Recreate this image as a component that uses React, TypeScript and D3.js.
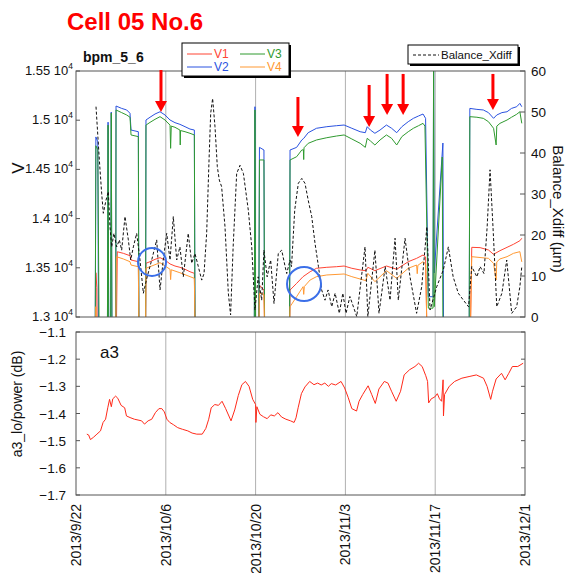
import React from 'react';
import * as d3 from 'd3';

type P = [number, number];

// x ticks (days since 2013/9/22)
const dateTickDays = [0, 14, 28, 42, 56, 70];
const dateTickLabels = ['2013/9/22', '2013/10/6', '2013/10/20', '2013/11/3', '2013/11/17', '2013/12/1'];
const vTicks = [13000, 13500, 14000, 14500, 15000, 15500];
const vTickLabels = ['1.3', '1.35', '1.4', '1.45', '1.5', '1.55'];
const balTicks = [0, 10, 20, 30, 40, 50, 60];
const a3Ticks = [-1.7, -1.6, -1.5, -1.4, -1.3, -1.2, -1.1];
const a3TickLabels = ['−1.7', '−1.6', '−1.5', '−1.4', '−1.3', '−1.2', '−1.1'];

const v1: P[] = [
  [3.05, 12900], [3.1, 13450], [3.25, 13300], [3.3, 12900],
  [6.3, 12900], [6.44, 13663], [7.38, 13647], [8.42, 13623], [8.58, 13579], [9.72, 13562], [9.8, 12900],
  [10.85, 12900], [10.91, 13546], [11.54, 13562], [12.32, 13586], [13.1, 13603], [13.88, 13579], [14.66, 13539], [15.43, 13518], [16.2, 13505], [17.0, 13485], [17.77, 13460], [18.45, 13444], [18.55, 12900],
  [28.5, 12900], [28.6, 13325], [29.3, 13274], [29.4, 12900],
  [33.3, 12900], [33.37, 13274], [34.4, 13342], [35.4, 13410], [36.5, 13460], [37.5, 13495], [39.1, 13505], [40.6, 13511], [41.8, 13518], [43.0, 13495], [44.3, 13478], [45.2, 13470], [45.5, 13505], [46.6, 13471], [48.4, 13518], [50.0, 13485], [51.8, 13562], [53.1, 13596], [54.1, 13630], [54.5, 13610], [54.7, 12900],
  [61.5, 12900], [61.7, 13708], [63.0, 13705], [64.3, 13681], [65.1, 13637], [66.1, 13674], [67.2, 13708], [68.2, 13739], [69.2, 13775], [69.5, 13800],
];

const v2: P[] = [
  [3.0, 12900], [3.1, 14830], [3.4, 14780], [3.5, 12900],
  [4.9, 12900], [5.0, 14980], [5.1, 12900],
  [5.4, 12900], [5.5, 15083], [5.6, 12900],
  [6.2, 12900], [6.24, 15144], [7.12, 15120], [7.9, 15104], [8.42, 15070], [8.58, 14900], [9.72, 14883], [9.8, 12900],
  [10.85, 12900], [10.91, 15002], [11.54, 15030], [12.32, 15063], [13.1, 15086], [13.88, 15053], [14.66, 15002], [15.43, 14975], [16.2, 14958], [17.0, 14934], [17.77, 14910], [18.45, 14900], [18.55, 12900],
  [27.8, 12900], [27.9, 15137], [28.0, 12900],
  [28.5, 12900], [28.6, 14724], [29.3, 14697], [29.4, 12900],
  [33.3, 12900], [33.37, 14697], [34.4, 14724], [35.2, 14799], [35.5, 14815], [36.2, 14873], [37.5, 14918], [39.1, 14934], [40.6, 14944], [41.8, 14951], [43.0, 14918], [44.3, 14883], [45.1, 14873], [45.4, 14934], [45.9, 14900], [46.6, 14867], [47.4, 14900], [48.4, 14951], [49.2, 14918], [50.0, 14873], [50.8, 14934], [51.8, 14985], [52.6, 15019], [53.4, 15043], [54.1, 15063], [54.5, 15019], [54.93, 13206], [55.66, 13206], [55.75, 15600], [55.85, 13447], [57.2, 14768], [57.3, 12900],
  [61.3, 12900], [61.4, 15120], [62.5, 15110], [63.5, 15104], [64.3, 15077], [65.1, 15019], [65.6, 15053], [66.4, 15077], [67.2, 15086], [67.9, 15120], [68.7, 15137], [69.2, 15171], [69.5, 15137],
];

const v3: P[] = [
  [3.0, 12900], [3.1, 14740], [3.4, 14700], [3.6, 12900],
  [4.9, 12900], [5.0, 14950], [5.1, 12900],
  [5.4, 12900], [5.5, 15073], [5.6, 12900],
  [6.2, 12900], [6.24, 15104], [7.12, 15077], [7.9, 15053], [8.42, 15030], [8.58, 14850], [9.72, 14833], [9.8, 12900],
  [10.85, 12900], [10.91, 14950], [11.54, 14978], [12.32, 15009], [13.1, 15036], [13.88, 15002], [14.66, 14950], [14.75, 14714], [14.85, 14940], [15.43, 14928], [16.2, 14900], [16.25, 14748], [16.3, 14895], [17.0, 14883], [17.77, 14867], [18.45, 14850], [18.55, 12900],
  [27.8, 12900], [27.9, 15104], [28.0, 12900],
  [28.5, 12900], [28.6, 14596], [29.3, 14596], [29.4, 12900],
  [33.3, 12900], [33.37, 14596], [34.4, 14629], [35.2, 14697], [35.45, 14700], [35.5, 14600], [35.55, 14720], [36.2, 14765], [37.5, 14799], [39.1, 14822], [40.6, 14839], [41.8, 14850], [43.0, 14809], [44.3, 14765], [45.1, 14724], [45.4, 14816], [45.9, 14789], [46.6, 14748], [47.4, 14799], [48.4, 14850], [49.2, 14816], [50.0, 14748], [50.8, 14833], [51.8, 14883], [52.6, 14918], [53.4, 14944], [54.1, 14968], [54.4, 14940], [54.93, 13090], [55.66, 13090], [55.75, 15600], [55.85, 13105], [57.1, 14626], [57.2, 12900],
  [61.3, 12900], [61.4, 15036], [62.5, 15030], [63.5, 15019], [64.3, 14985], [65.1, 14918], [65.5, 14748], [65.6, 14940], [66.1, 14968], [67.2, 15002], [67.9, 15030], [68.7, 15060], [69.2, 15086], [69.5, 14968],
];

const v4: P[] = [
  [3.05, 12900], [3.1, 13105], [3.2, 12900],
  [6.2, 12900], [6.3, 13613], [7.38, 13590], [8.42, 13562], [8.58, 13528], [9.72, 13511], [9.8, 12900],
  [10.85, 12900], [10.91, 13495], [13.1, 13552], [14.66, 13485], [14.75, 13380], [14.85, 13480], [16.2, 13450], [18.45, 13393], [18.55, 12900],
  [28.5, 12900], [28.6, 13241], [29.3, 13230], [29.4, 12900],
  [33.3, 12900], [33.37, 13105], [34.4, 13207], [35.4, 13308], [35.5, 13230], [35.6, 13310], [36.5, 13376], [37.5, 13410], [39.1, 13427], [41.8, 13437], [43.0, 13410], [44.3, 13386], [45.2, 13369], [45.5, 13444], [46.6, 13359], [48.4, 13471], [50.0, 13393], [51.8, 13495], [53.1, 13528], [53.2, 13440], [53.3, 13525], [54.1, 13562], [54.5, 13540], [54.7, 12900],
  [61.5, 12900], [61.7, 13613], [64.3, 13596], [65.1, 13545], [65.5, 13376], [65.6, 13560], [66.1, 13590], [67.2, 13613], [68.2, 13647], [69.2, 13664], [69.5, 13560],
];

const balance: P[] = [
  [3.12, 51.3], [3.64, 38.3], [4.0, 30.2], [4.26, 25.3], [4.68, 28.5], [5.04, 30.6], [5.3, 22], [5.56, 17.1], [5.92, 20.4], [6.34, 17.1], [6.76, 18.8], [7.12, 16.3], [7.64, 24.5], [8.16, 18.8], [8.53, 13.9], [8.94, 17.1], [9.46, 20.4], [9.98, 13.9], [10.5, 5.8], [11.1, 9.8], [11.8, 13.9], [12.58, 18.8], [13.1, 6.6], [13.6, 13.9], [14.14, 20.4], [14.66, 13.9], [15.17, 24.5], [15.7, 13.9], [16.2, 17.1], [16.73, 9.8], [17.5, 20.4], [18.04, 13.1], [18.55, 15.5], [19.07, 12.3], [19.6, 9], [19.96, 10.6],
  [20.37, 20.4], [20.74, 38.3], [21.0, 49.7], [21.3, 53.3], [21.67, 46.4], [22.03, 36.7], [22.34, 33.4], [22.7, 31.8], [23.23, 22], [23.75, 5.8], [24.1, 0.5], [24.5, 17.1], [25.05, 35], [25.57, 37], [26.1, 35], [26.86, 26.1], [27.4, 17.1], [27.9, 1.7], [28.4, 9.8], [28.95, 4.1], [29.3, 16.3], [29.8, 9.8], [30.35, 13.9], [30.87, 3.3], [31.54, 15.5], [32.07, 16.3], [32.6, 12.3], [32.85, 10.6], [33.37, 13.9], [33.6, 12.3],
  [34.1, 26.1], [34.66, 32.6], [35.2, 33.8], [35.7, 32.6], [36.2, 28.5], [36.75, 24.5], [37.26, 18], [37.8, 12.3], [38.3, 6.6], [38.82, 4.1], [39.3, 6.6], [39.87, 2.5], [40.4, 5.8], [41.05, 0.9], [41.6, 5.8], [42.1, 0.9], [42.7, 5], [43.77, 0.1], [45.06, 17.1], [45.5, 0.1], [46.6, 16.3], [47.24, 0.9], [48.2, 12.3], [48.96, 4.1], [49.74, 19.2], [50.25, 4.1], [51.3, 19.2], [52.07, 9.8], [53.1, 0.9], [53.9, 7.4], [54.7, 22], [55.2, 1.7], [56.24, 7.4], [57.27, 11.5], [58.05, 17.1], [58.8, 9.8], [59.6, 5.8], [60.4, 4.1], [61.2, 2.5], [61.7, 12.3], [62.5, 9.8], [63.0, 12.3], [63.6, 10.6], [64.1, 22], [64.55, 35.9], [65.06, 20.4], [65.6, 2.5], [66.4, 5.8], [67.15, 13.9], [67.93, 0.9], [68.7, 2.5], [69.2, 7.4], [69.5, 12.3],
];

const a3: P[] = [
  [1.69, -1.476], [1.97, -1.479], [2.25, -1.496], [2.7, -1.488], [3.26, -1.476], [3.82, -1.464], [4.22, -1.433], [4.61, -1.421], [4.95, -1.379], [5.23, -1.348], [5.51, -1.375], [5.73, -1.346], [6.18, -1.336], [6.52, -1.344], [7.03, -1.37], [7.59, -1.379], [7.87, -1.409], [8.43, -1.415], [9.1, -1.421], [9.67, -1.424], [10.23, -1.427], [10.68, -1.439], [11.24, -1.427], [11.81, -1.421], [12.37, -1.397], [12.93, -1.382], [13.38, -1.382], [13.77, -1.394], [14.17, -1.421], [14.62, -1.433], [15.18, -1.441], [15.85, -1.452], [16.58, -1.458], [17.43, -1.464], [18.1, -1.472], [18.83, -1.476], [19.68, -1.476], [20.24, -1.455], [20.69, -1.421], [21.08, -1.379], [21.64, -1.367], [22.21, -1.37], [22.77, -1.355], [23.33, -1.382], [24.17, -1.427], [24.74, -1.387], [25.3, -1.334], [25.86, -1.294], [26.42, -1.282], [26.98, -1.3], [27.55, -1.348], [28.0, -1.367], [28.05, -1.433], [28.2, -1.375], [28.67, -1.403], [29.23, -1.412], [29.8, -1.419], [30.36, -1.405], [30.92, -1.409], [31.48, -1.397], [32.05, -1.413], [32.72, -1.421], [33.45, -1.427], [34.0, -1.433], [34.3, -1.416], [34.63, -1.379], [35.14, -1.327], [35.7, -1.302], [36.43, -1.282], [37.1, -1.294], [37.67, -1.288], [38.23, -1.295], [38.79, -1.288], [39.35, -1.3], [39.8, -1.29], [40.48, -1.295], [41.32, -1.282], [41.88, -1.306], [42.45, -1.342], [43.0, -1.382], [43.74, -1.391], [44.13, -1.355], [44.7, -1.33], [45.54, -1.298], [46.1, -1.33], [46.66, -1.363], [47.22, -1.31], [48.07, -1.282], [48.63, -1.288], [49.19, -1.318], [49.92, -1.355], [50.6, -1.318], [51.16, -1.258], [52.0, -1.239], [52.85, -1.227], [53.41, -1.215], [53.97, -1.227], [54.53, -1.261], [54.81, -1.282], [54.98, -1.361], [55.38, -1.346], [55.94, -1.339], [56.33, -1.327], [56.67, -1.346], [57.0, -1.355], [57.23, -1.276], [57.29, -1.409], [57.46, -1.33], [58.19, -1.3], [59.03, -1.282], [60.16, -1.27], [61.28, -1.264], [62.41, -1.258], [63.53, -1.27], [64.09, -1.3], [64.65, -1.348], [64.94, -1.318], [65.5, -1.273], [66.34, -1.252], [66.9, -1.276], [67.47, -1.252], [68.03, -1.227], [68.87, -1.227], [69.71, -1.215],
];

// annotations: red arrows (day, top V, tip V) and blue circles (day, V)
const arrowDays = [13.25, 34.6, 45.7, 48.5, 51.0, 65.0];
const arrowTopV = [15510, 15236, 15358, 15470, 15470, 15470];
const arrowTipV = [15083, 14829, 14931, 15053, 15053, 15104];
const circleDays = [11.85, 35.55];
const circleV = [13559, 13335];

const C = {
  v1: '#ff4433',
  v2: '#2a52e0',
  v3: '#2f9a2f',
  v4: '#ff9933',
  a3: '#ff2a1a',
  frame: '#555',
  grid: '#b0b0b0',
};

const FONT = "'Liberation Sans', Arial, Helvetica, sans-serif";

export default function App() {
  const L = 76, R = 525;
  const T1 = 71, B1 = 317;
  const T2 = 332, B2 = 495;
  const x = d3.scaleLinear().domain([0, 70]).range([L, R]);
  const yV = d3.scaleLinear().domain([13000, 15500]).range([B1, T1]);
  const yB = d3.scaleLinear().domain([0, 60]).range([B1, T1]);
  const yA = d3.scaleLinear().domain([-1.7, -1.1]).range([B2, T2]);

  const lineV = d3.line<P>().x(d => x(d[0])).y(d => yV(d[1]));
  const lineB = d3.line<P>().x(d => x(d[0])).y(d => yB(d[1]));
  const lineA = d3.line<P>().x(d => x(d[0])).y(d => yA(d[1]));

  const gridDays = dateTickDays.slice(1, -1);

  return (
    <svg width={566} height={573} style={{ position: 'absolute', left: 0, top: 0, background: '#fff' }} fontFamily={FONT}>
      <defs>
        <clipPath id="clipTop"><rect x={L} y={T1} width={R - L} height={B1 - T1} /></clipPath>
        <clipPath id="clipBot"><rect x={L} y={T2} width={R - L} height={B2 - T2} /></clipPath>
      </defs>
      <rect x={0} y={0} width={566} height={573} fill="#fff" />

      {/* Title */}
      <text x={67} y={30} fontSize={24} fontWeight="bold" fill="#ff0000" fontFamily="'Liberation Sans', Arial, sans-serif">Cell 05 No.6</text>
      <text x={83} y={62} fontSize={14} fontWeight="bold" fill="#111">bpm_5_6</text>

      {/* ---------- Top panel ---------- */}
      {gridDays.map(d => (
        <line key={'g1' + d} x1={x(d)} x2={x(d)} y1={T1} y2={B1} stroke={C.grid} strokeWidth={1} />
      ))}
      <g clipPath="url(#clipTop)" fill="none" strokeWidth={1}>
        <path d={lineV(v1) || ''} stroke={C.v1} />
        <path d={lineV(v2) || ''} stroke={C.v2} />
        <path d={lineV(v3) || ''} stroke={C.v3} />
        <path d={lineV(v4) || ''} stroke={C.v4} />
        <path d={lineB(balance) || ''} stroke="#111" strokeDasharray="3,2" />
      </g>
      <rect x={L} y={T1} width={R - L} height={B1 - T1} fill="none" stroke={C.frame} strokeWidth={1} />
      {vTicks.map((v, i) => (
        <g key={'vt' + v}>
          <line x1={L} x2={L + 4} y1={yV(v)} y2={yV(v)} stroke={C.frame} />
          <text x={73} y={yV(v) + 4} fontSize={13} textAnchor="end" fill="#111">
            {vTickLabels[i]} 10<tspan fontSize={8.5} dy={-6}>4</tspan>
          </text>
        </g>
      ))}
      {balTicks.map(v => (
        <g key={'bt' + v}>
          <line x1={R - 5} x2={R} y1={yB(v)} y2={yB(v)} stroke={C.frame} />
          <text x={531} y={yB(v) + 5} fontSize={13.5} fill="#111">{v}</text>
        </g>
      ))}
      <text transform={`translate(24,168) rotate(-90)`} fontSize={17} textAnchor="middle" fill="#111">V</text>
      <text transform={`translate(553,209) rotate(90)`} fontSize={15} textAnchor="middle" fill="#111">Balance_Xdiff (µm)</text>

      {/* arrows */}
      {arrowDays.map((d, i) => {
        const ax = x(d);
        const y0 = yV(arrowTopV[i]);
        const y1 = yV(arrowTipV[i]);
        return (
          <g key={'ar' + i}>
            <line x1={ax} x2={ax} y1={y0} y2={y1 - 9} stroke="#ff0000" strokeWidth={3} />
            <polygon points={`${ax - 6},${y1 - 11} ${ax + 6},${y1 - 11} ${ax},${y1}`} fill="#ff0000" />
          </g>
        );
      })}
      {/* circles */}
      {circleDays.map((d, i) => (
        <circle key={'c' + i} cx={x(d)} cy={yV(circleV[i])} r={i === 0 ? 14 : 17} fill="none" stroke="#3b6fe8" strokeWidth={2} />
      ))}

      {/* legend V */}
      <rect x={184} y={45} width={107} height={33} fill="#000" />
      <rect x={182} y={43} width={107} height={33} fill="#fff" stroke="#000" strokeWidth={1} />
      <line x1={187} x2={212} y1={54} y2={54} stroke={C.v1} />
      <text x={214} y={58} fontSize={12} fill={C.v1}>V1</text>
      <line x1={240} x2={265} y1={54} y2={54} stroke={C.v3} />
      <text x={267} y={58} fontSize={12} fill={C.v3}>V3</text>
      <line x1={187} x2={212} y1={67} y2={67} stroke={C.v2} />
      <text x={214} y={71} fontSize={12} fill={C.v2}>V2</text>
      <line x1={240} x2={265} y1={67} y2={67} stroke={C.v4} />
      <text x={267} y={71} fontSize={12} fill={C.v4}>V4</text>

      {/* legend balance */}
      <rect x={410} y={47} width={110} height={19} fill="#000" />
      <rect x={408} y={45} width={110} height={19} fill="#fff" stroke="#000" strokeWidth={1} />
      <line x1={413} x2={439} y1={55} y2={55} stroke="#111" strokeDasharray="3,2" />
      <text x={441} y={59} fontSize={11.5} fill="#111">Balance_Xdiff</text>

      {/* ---------- Bottom panel ---------- */}
      {gridDays.map(d => (
        <line key={'g2' + d} x1={x(d)} x2={x(d)} y1={T2} y2={B2} stroke={C.grid} strokeWidth={1} />
      ))}
      <g clipPath="url(#clipBot)">
        <path d={lineA(a3) || ''} fill="none" stroke={C.a3} strokeWidth={1} />
      </g>
      <rect x={L} y={T2} width={R - L} height={B2 - T2} fill="none" stroke={C.frame} strokeWidth={1} />
      {a3Ticks.map((v, i) => (
        <g key={'at' + v}>
          <line x1={L} x2={L + 4} y1={yA(v)} y2={yA(v)} stroke={C.frame} />
          <line x1={R - 4} x2={R} y1={yA(v)} y2={yA(v)} stroke={C.frame} />
          <text x={66} y={yA(v) + 5} fontSize={13.5} textAnchor="end" fill="#111">{a3TickLabels[i]}</text>
        </g>
      ))}
      <text x={100} y={358} fontSize={17} fill="#111">a3</text>
      <text transform={`translate(22,404) rotate(-90)`} fontSize={14} textAnchor="middle" fill="#111">a3_lo/power (dB)</text>
      {dateTickDays.map((d, i) => (
        <text key={'xl' + d} transform={`translate(${x(d) + 5},504) rotate(-90)`} fontSize={14} textAnchor="end" fill="#111">{dateTickLabels[i]}</text>
      ))}
    </svg>
  );
}
